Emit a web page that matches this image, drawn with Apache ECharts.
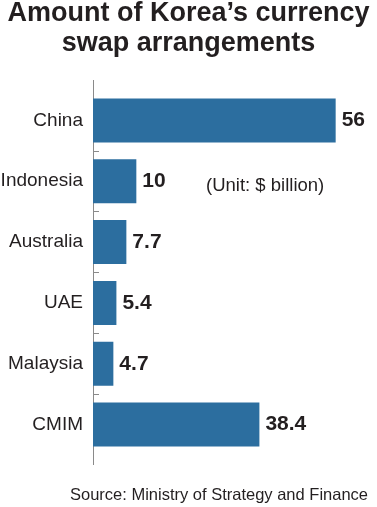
<!DOCTYPE html>
<html>
<head>
<meta charset="utf-8">
<script src="https://cdn.jsdelivr.net/npm/echarts@6/dist/echarts.min.js"></script>
<style>
  html, body { margin: 0; padding: 0; background: #fff; }
  #chart { width: 377px; height: 507px; }
</style>
</head>
<body>
<div id="chart"></div>
<script>
const countries = ['China', 'Indonesia', 'Australia', 'UAE', 'Malaysia', 'CMIM'];
const amounts = [56, 10, 7.7, 5.4, 4.7, 38.4];

const FONT = '"Liberation Sans", Arial, Helvetica, sans-serif';
const INK = '#231f20';
const BAR = '#2c6e9f';
const AXIS = '#8a8a8a';

// ticks only between categories, not at the ends of the axis
const dividers = countries.slice(1).map((_, i) => i + 0.5);

const chart = echarts.init(document.getElementById('chart'));
chart.setOption({
  animation: false,
  title: {
    text: 'Amount of Korea\u2019s currency\nswap arrangements',
    left: 'center',
    top: -6,
    textStyle: { fontFamily: FONT, fontSize: 27, fontWeight: 'bold', color: INK, lineHeight: 30 },
  },
  grid: { left: 93, top: 90, width: 260, height: 365, containLabel: false, outerBoundsMode: 'none' },
  xAxis: { type: 'value', min: 0, max: 60, show: false },
  yAxis: [
    {
      type: 'category',
      data: countries,
      inverse: true,
      axisLine: { show: false },
      axisTick: { show: false },
      axisLabel: { fontFamily: FONT, fontSize: 19, color: INK, margin: 10 },
    },
    {
      type: 'value',
      position: 'left',
      min: -0.5,
      max: countries.length - 0.5,
      inverse: true,
      axisLine: { show: false },
      axisLabel: { show: false },
      splitLine: { show: false },
      axisTick: { show: true, inside: true, length: 6, customValues: dividers, lineStyle: { color: AXIS } },
    },
  ],
  graphic: [
    // the vertical axis line runs a bit past the bars at both ends
    { type: 'line', shape: { x1: 93.5, y1: 80, x2: 93.5, y2: 465 }, style: { stroke: AXIS, lineWidth: 1 } },
    {
      type: 'text', left: 206, top: 176,
      style: { text: '(Unit: $ billion)', font: '18.5px ' + FONT, fill: INK },
    },
    {
      type: 'text', right: 9, top: 487,
      style: { text: 'Source: Ministry of Strategy and Finance', font: '16.5px ' + FONT, fill: INK },
    },
  ],
  series: [{
    type: 'bar',
    yAxisIndex: 0,
    data: amounts,
    barWidth: 44,
    itemStyle: { color: BAR },
    label: {
      show: true,
      position: 'right',
      distance: 6,
      fontFamily: FONT,
      fontSize: 21,
      fontWeight: 'bold',
      color: INK,
    },
  }],
});
</script>
</body>
</html>
